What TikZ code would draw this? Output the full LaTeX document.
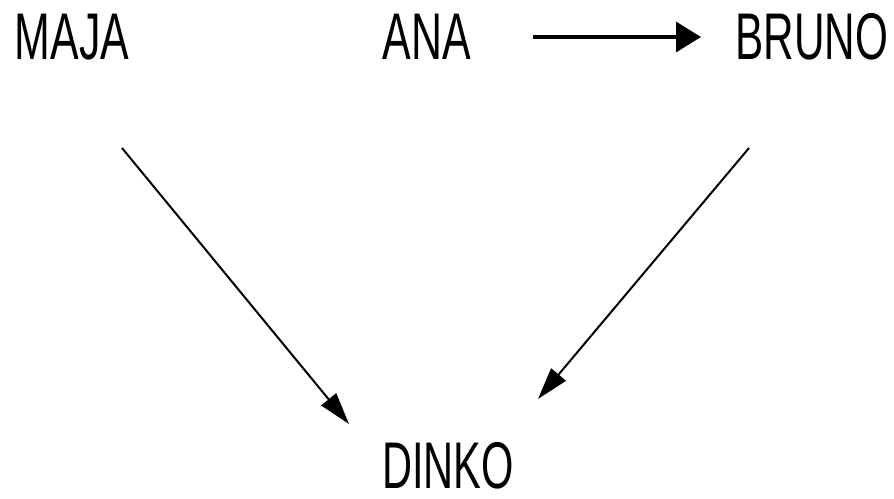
\documentclass[tikz,border=0pt]{standalone}
\usepackage{fontspec}
\setmainfont{Liberation Sans}
\usetikzlibrary{arrows.meta}
\begin{document}
\begin{tikzpicture}[x=1pt,y=-1pt,
  personnode/.style={inner sep=0pt, outer sep=0pt, font=\fontsize{66}{66}\selectfont},
  thinarrow/.style={line width=2pt, -{Triangle[length=32pt,width=19pt]}},
  thickarrow/.style={line width=3.5pt, -{Triangle[length=25pt,width=30pt]}}]
\useasboundingbox (0,0) rectangle (894,498);
\node[personnode] (maja) at (72,37) {\scalebox{0.65}[1]{MAJA}};
\node[personnode] (ana) at (427,37) {\scalebox{0.65}[1]{ANA}};
\node[personnode] (bruno) at (812,37) {\scalebox{0.64}[1]{BRUNO}};
\node[personnode] (dinko) at (448,466) {\scalebox{0.63}[1]{DINKO}};
\coordinate (a1) at (533,37);
\coordinate (a2) at (701,37);
\coordinate (m1) at (122,148);
\coordinate (m2) at (349,424);
\coordinate (b1) at (749,148);
\coordinate (b2) at (538,399);
\draw[thickarrow] (a1) -- (a2);
\draw[thinarrow] (m1) -- (m2);
\draw[thinarrow] (b1) -- (b2);
\end{tikzpicture}
\end{document}
